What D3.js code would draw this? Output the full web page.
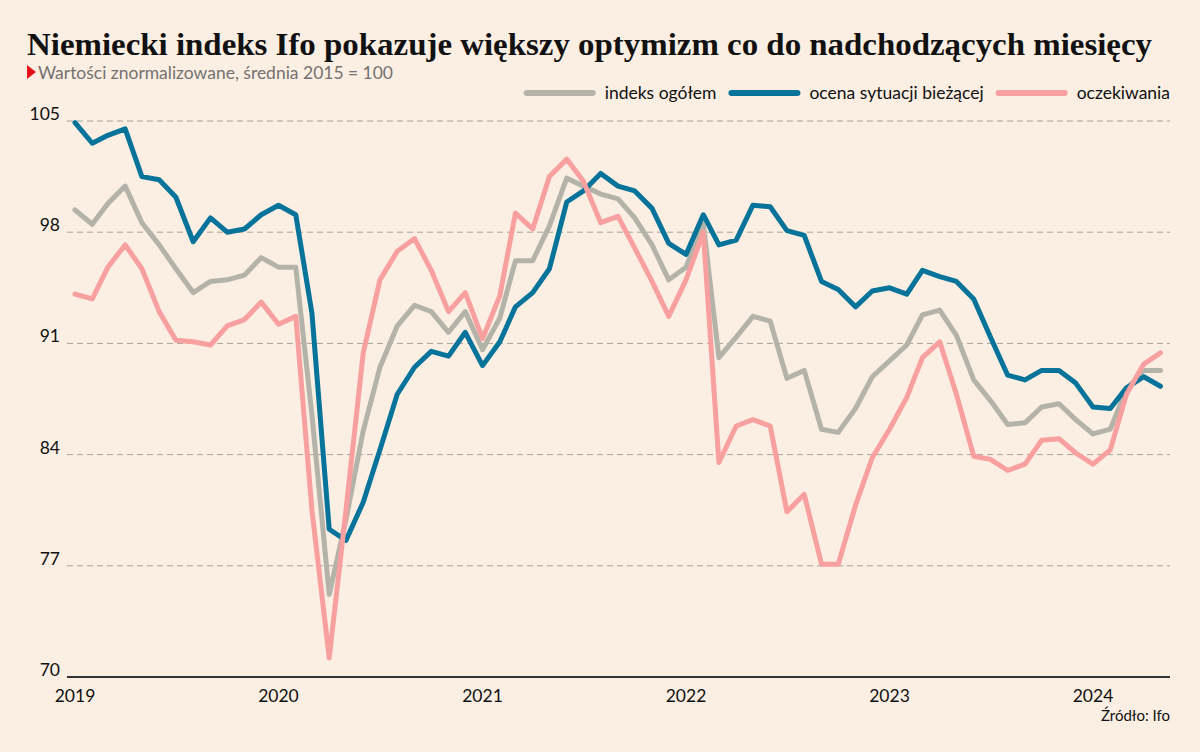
<!DOCTYPE html>
<html><head><meta charset="utf-8">
<script src="https://cdn.jsdelivr.net/npm/d3@7"></script>
<style>
html,body{margin:0;padding:0;background:#fbeee2;}
svg{display:block;}
</style></head>
<body>
<svg id="chart" width="1200" height="752"></svg>
<script>
const startMonth = "2019-01";
const seriesNames = ["indeks ogółem", "ocena sytuacji bieżącej", "oczekiwania"];
const general = [99.4, 98.5, 99.8, 100.9, 98.6, 97.2, 95.7, 94.2, 94.9, 95.0, 95.3, 96.4, 95.8, 95.8, 86.5, 75.2,
  79.9, 85.5, 89.5, 92.1, 93.4, 93.0, 91.7, 93.0, 90.6, 92.6, 96.2, 96.2, 98.4, 101.4, 100.9, 100.4,
  100.1, 98.9, 97.2, 95.0, 95.8, 98.5, 90.1, 91.4, 92.7, 92.4, 88.8, 89.3, 85.6, 85.4, 86.9, 88.9,
  89.9, 90.9, 92.8, 93.1, 91.5, 88.7, 87.4, 85.9, 86.0, 87.0, 87.2, 86.2, 85.3, 85.6, 88.1, 89.3, 89.3];
const current = [104.9, 103.6, 104.1, 104.5, 101.5, 101.3, 100.2, 97.4, 98.9, 98.0, 98.2, 99.1, 99.7, 99.1, 92.9, 79.3,
  78.6, 81.0, 84.3, 87.8, 89.5, 90.5, 90.2, 91.7, 89.6, 91.1, 93.3, 94.2, 95.7, 99.9, 100.6, 101.7,
  100.9, 100.6, 99.5, 97.3, 96.6, 99.1, 97.2, 97.5, 99.7, 99.6, 98.1, 97.8, 94.9, 94.4, 93.3, 94.3,
  94.5, 94.1, 95.6, 95.2, 94.9, 93.8, 91.4, 89.0, 88.7, 89.3, 89.3, 88.5, 87.0, 86.9, 88.2, 88.9, 88.3];
const expectations = [94.1, 93.8, 95.8, 97.2, 95.7, 93.0, 91.2, 91.1, 90.9, 92.1, 92.5, 93.6, 92.2, 92.7, 80.5, 71.2,
  80.5, 90.4, 95.0, 96.8, 97.6, 95.6, 93.0, 94.2, 91.3, 94.0, 99.2, 98.2, 101.5, 102.6, 101.2, 98.6,
  99.0, 97.0, 94.9, 92.7, 95.0, 98.0, 83.5, 85.8, 86.2, 85.8, 80.4, 81.5, 77.1, 77.1, 80.8, 83.8,
  85.6, 87.6, 90.1, 91.1, 87.8, 83.9, 83.7, 83.0, 83.4, 84.9, 85.0, 84.1, 83.4, 84.3, 87.8, 89.7, 90.4];
const yTicks = [70, 77, 84, 91, 98, 105];
const xTickYears = [2019, 2020, 2021, 2022, 2023, 2024];
const titleText = "Niemiecki indeks Ifo pokazuje większy optymizm co do nadchodzących miesięcy";
const subtitleText = "Wartości znormalizowane, średnia 2015 = 100";
const sourceText = "Źródło: Ifo";
const colors = ["#b4b3a9", "#06739b", "#f8a0a0"];

const svg = d3.select("#chart");
const W = 1200, H = 752;
svg.append("rect").attr("width", W).attr("height", H).attr("fill", "#fbeee2");

const parse = d3.timeParse("%Y-%m");
const t0 = parse(startMonth);
const dates = general.map((_, i) => d3.timeMonth.offset(t0, i));

const x = d3.scaleTime().domain([new Date(2019, 0, 1), new Date(2024, 0, 1)]).range([75, 1093]);
const y = d3.scaleLinear().domain([70, 105]).range([677, 121]);
const gridLeft = 67, gridRight = 1170;

const sans = "Lato, 'Open Sans', sans-serif";

// Title
const title = svg.append("text").attr("x", 27).attr("y", 55)
  .attr("font-family", "'Liberation Serif', 'DejaVu Serif', serif")
  .attr("font-weight", "bold").attr("font-size", 32).attr("fill", "#111")
  .text(titleText);
title.attr("textLength", 1125).attr("lengthAdjust", "spacingAndGlyphs");

// Subtitle
svg.append("path").attr("d", "M27,65 L36,72 L27,79 Z").attr("fill", "#e3121b");
svg.append("text").attr("x", 38).attr("y", 79)
  .attr("font-family", sans).attr("font-size", 18).attr("fill", "#757170")
  .attr("textLength", 355).attr("lengthAdjust", "spacingAndGlyphs")
  .text(subtitleText);

// Legend (right aligned to gridRight)
const legendY = 93;
const lg = svg.append("g");
let cursor = gridRight;
const items = seriesNames.map((n, i) => ({ n, c: colors[i] })).reverse();
items.forEach(it => {
  const t = lg.append("text").attr("y", legendY + 6).attr("font-family", sans)
    .attr("font-size", 17.5).attr("fill", "#111").attr("text-anchor", "end")
    .attr("x", cursor).text(it.n);
  const w = t.node().getComputedTextLength();
  const lineEnd = cursor - w - 12;
  lg.append("line").attr("x1", lineEnd - 66).attr("x2", lineEnd)
    .attr("y1", legendY).attr("y2", legendY)
    .attr("stroke", it.c).attr("stroke-width", 6).attr("stroke-linecap", "round");
  cursor = lineEnd - 66 - 15;
});

// Grid lines
const grid = svg.append("g");
yTicks.filter(v => v !== 70).forEach(v => {
  grid.append("line").attr("x1", gridLeft).attr("x2", gridRight)
    .attr("y1", y(v)).attr("y2", y(v))
    .attr("stroke", "#a9a29b").attr("stroke-width", 1).attr("stroke-dasharray", "6,4");
});
// y labels
yTicks.forEach(v => {
  svg.append("text").attr("x", 60).attr("y", y(v) - 1).attr("text-anchor", "end")
    .attr("font-family", sans).attr("font-size", 17.5).attr("fill", "#111").text(v);
});

// Lines
const line = d3.line().x((d, i) => x(dates[i])).y(d => y(d));
[general, current, expectations].forEach((s, i) => {
  svg.append("path").datum(s).attr("d", line).attr("fill", "none")
    .attr("stroke", colors[i]).attr("stroke-width", 5)
    .attr("stroke-linejoin", "round").attr("stroke-linecap", "round");
});

// x axis line
svg.append("line").attr("x1", gridLeft).attr("x2", gridRight)
  .attr("y1", y(70)).attr("y2", y(70)).attr("stroke", "#333").attr("stroke-width", 2);

// x labels
xTickYears.forEach(yr => {
  svg.append("text").attr("x", x(new Date(yr, 0, 1))).attr("y", 702)
    .attr("text-anchor", "middle").attr("font-family", sans).attr("font-size", 17.5)
    .attr("fill", "#111").text(yr);
});

// source
svg.append("text").attr("x", gridRight).attr("y", 721).attr("text-anchor", "end")
  .attr("font-family", sans).attr("font-size", 15).attr("fill", "#111").text(sourceText);
</script>
</body></html>
